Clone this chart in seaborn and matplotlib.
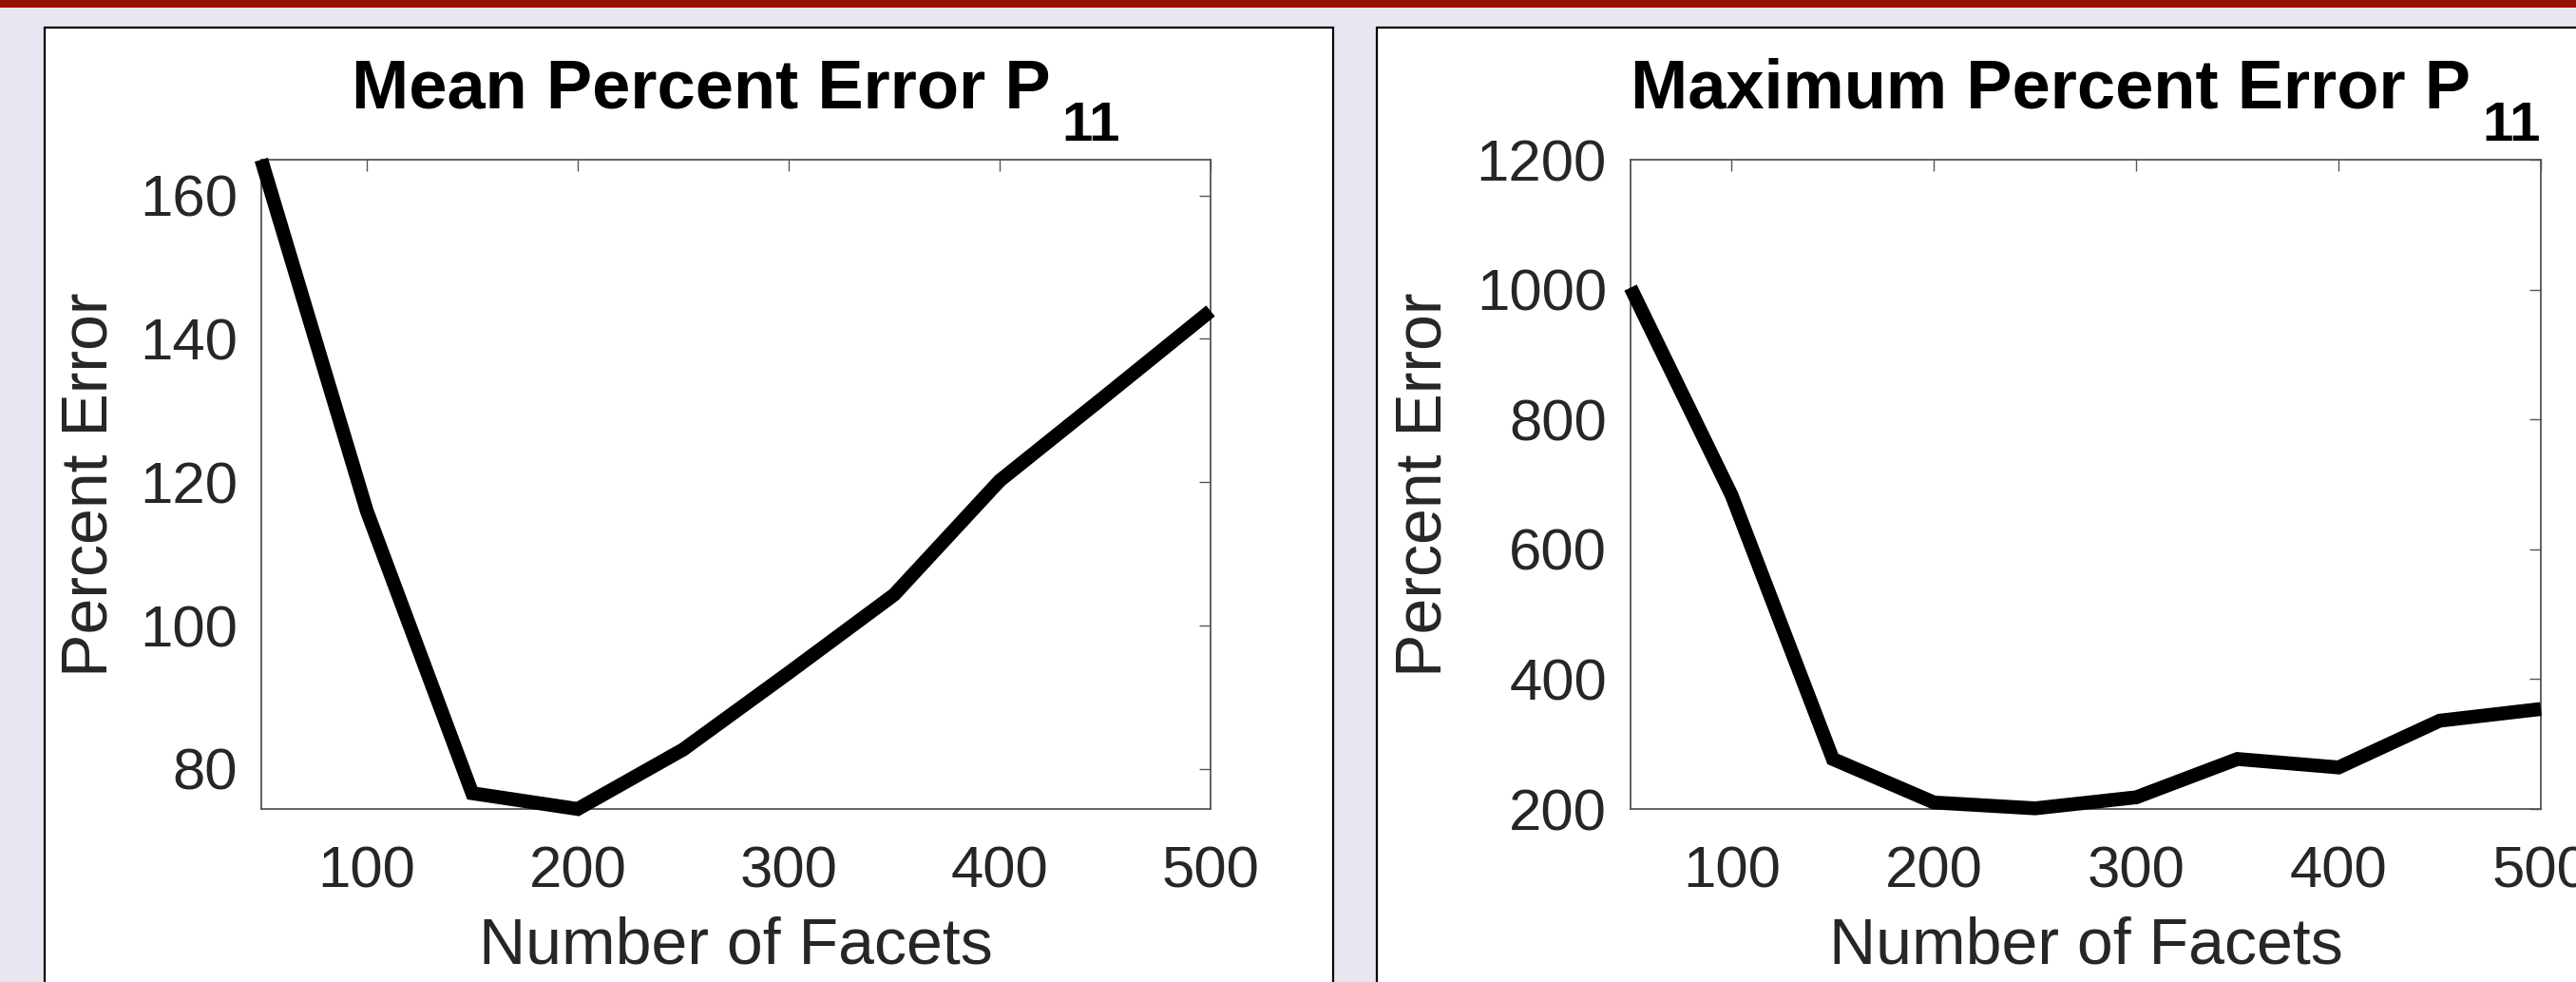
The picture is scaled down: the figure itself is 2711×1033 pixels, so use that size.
import numpy as np
import pandas as pd
import matplotlib
matplotlib.use("Agg")
import matplotlib.pyplot as plt
import seaborn as sns
from matplotlib.patches import Rectangle

# ── Data ──────────────────────────────────────────────────────────
facets = [50, 100, 150, 200, 250, 300, 350, 400, 450, 500]
mean_err = [165.0, 116.0, 76.6, 74.4, 82.7, 93.4, 104.3, 120.2, 132.0, 143.9]
max_err = [1003, 683, 277, 210, 201, 218, 277, 264, 336, 354]

x_ticks = [100, 200, 300, 400, 500]
mean_ticks = [80, 100, 120, 140, 160]
max_ticks = [200, 400, 600, 800, 1000, 1200]

df = pd.DataFrame({"facets": facets, "mean": mean_err, "max": max_err})

# ── Style ─────────────────────────────────────────────────────────
sns.set_theme(style="white")
plt.rcParams["font.family"] = ["Liberation Sans", "DejaVu Sans"]

W, H = 2711, 1033
fig = plt.figure(figsize=(W / 100, H / 100), dpi=100)
fig.patch.set_facecolor("#EAE6F1")

# slide decoration: red bar + two white panels (behind the axes)
fig.patches.append(Rectangle((0, 1 - 8 / H), 1, 8 / H, transform=fig.transFigure,
                             facecolor="#961200", edgecolor="none", zorder=-10))
for x0, x1 in [(47, 1403), (1449, 2760)]:
    fig.patches.append(Rectangle((x0 / W, -0.05), (x1 - x0) / W, 1.05 - 29 / H,
                                 transform=fig.transFigure, facecolor="white",
                                 edgecolor="black", linewidth=1.6, zorder=-10))

ax_top, ax_bot = 168, 851
axL = fig.add_axes([275 / W, 1 - ax_bot / H, (1274 - 275) / W, (ax_bot - ax_top) / H])
axR = fig.add_axes([1716 / W, 1 - ax_bot / H, (2674 - 1716) / W, (ax_bot - ax_top) / H])
axL.set_zorder(1)
axR.set_zorder(1)

sns.lineplot(data=df, x="facets", y="mean", ax=axL, color="black", linewidth=10.5)
sns.lineplot(data=df, x="facets", y="max", ax=axR, color="black", linewidth=10.5)

axL.set_xlim(50, 500)
axL.set_ylim(min(mean_err), max(mean_err))
axR.set_xlim(50, 500)
axR.set_ylim(200, 1200)
axL.set_xticks(x_ticks)
axR.set_xticks(x_ticks)
axL.set_yticks(mean_ticks)
axR.set_yticks(max_ticks)

for ax in (axL, axR):
    ax.set_facecolor("white")
    for line in ax.lines:
        line.set_clip_on(False)
        line.set_solid_joinstyle("miter")
        line.set_solid_capstyle("butt")
        line.set_zorder(5)
    for s in ax.spines.values():
        s.set_color("#555555")
        s.set_linewidth(1.3)
    ax.tick_params(direction="in", top=True, right=True, length=8.5, width=1.0,
                   color="#555555", labelsize=44.5, labelcolor="#262626")
    ax.tick_params(axis="x", pad=28)
    ax.tick_params(axis="y", pad=18)
    ax.set_xlabel("Number of Facets", fontsize=49, color="#262626")
    ax.set_ylabel("Percent Error", fontsize=49, color="#262626")
    ax.xaxis.set_label_coords(0.5, -0.165)

axL.yaxis.set_label_coords(-0.149, 0.5)
axR.yaxis.set_label_coords(-0.194, 0.5)

# titles with a dropped subscript
renderer = fig.canvas.get_renderer()
for ax, main in [(axL, "Mean Percent Error P"), (axR, "Maximum Percent Error P")]:
    pos = ax.get_position()
    cx = (pos.x0 + pos.x1) / 2 * W
    t1 = fig.text(0, 1 - 113 / H, main, fontsize=52, weight="bold", va="baseline", ha="left", color="black")
    t2 = fig.text(0, 1 - 148 / H, "11", fontsize=42, weight="bold", va="baseline", ha="left", color="black")
    w1 = t1.get_window_extent(renderer).width
    w2 = t2.get_window_extent(renderer).width
    gap = 12
    x0 = cx - (w1 + gap + w2) / 2
    t1.set_x(x0 / W)
    t2.set_x((x0 + w1 + gap) / W)

fig.savefig("out.png", dpi=100, facecolor=fig.get_facecolor())
